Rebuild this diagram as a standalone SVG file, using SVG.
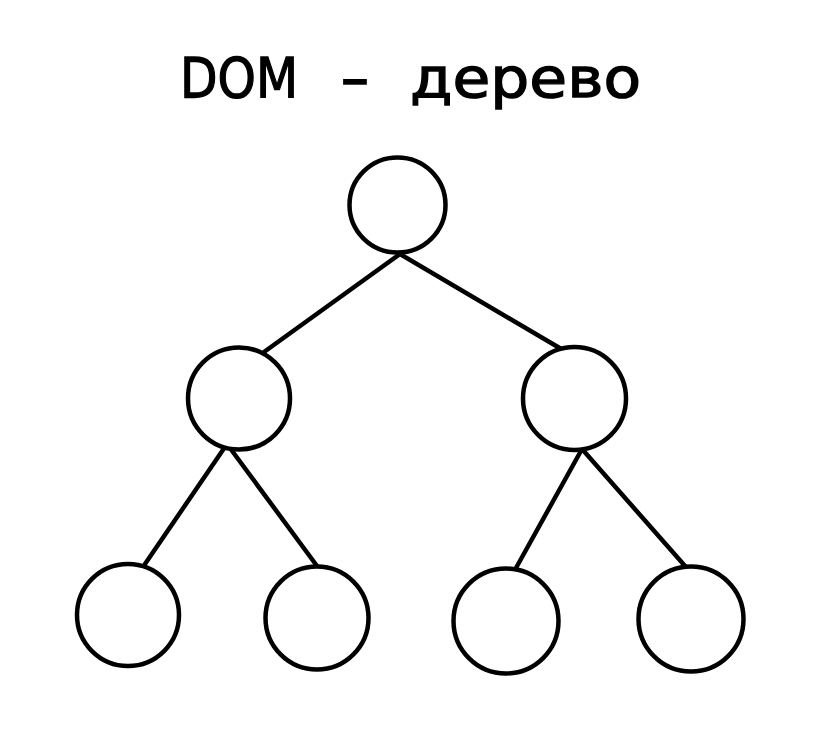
<svg xmlns="http://www.w3.org/2000/svg" width="840" height="737" viewBox="0 0 840 737">
<style>
.node{fill:#fff;stroke:#000;stroke-width:4.5}
.edge{stroke:#000;stroke-width:4.5;stroke-linecap:round}
.title{font-family:"DejaVu Sans","Liberation Sans",sans-serif;font-size:56px;fill:#000;stroke:#000;stroke-width:1.3}
</style>
<rect width="840" height="737" fill="#fff"/>
<text class="title" y="97"><tspan x="180" textLength="118" lengthAdjust="spacingAndGlyphs">DOM</tspan> <tspan x="340" textLength="30" lengthAdjust="spacingAndGlyphs">-</tspan> <tspan x="410" textLength="231" lengthAdjust="spacingAndGlyphs">дерево</tspan></text>
<g id="connectors">
<line class="edge" x1="400" y1="254" x2="264" y2="352"/>
<line class="edge" x1="400" y1="254" x2="563" y2="350"/>
<line class="edge" x1="227" y1="444" x2="145" y2="564"/>
<line class="edge" x1="227" y1="444" x2="317" y2="566"/>
<line class="edge" x1="582" y1="449" x2="516" y2="568"/>
<line class="edge" x1="582" y1="449" x2="685" y2="566"/>
</g>
<g id="n-root"><ellipse class="node" cx="397.5" cy="205" rx="48" ry="47.5"/></g>
<g id="n-left"><circle class="node" cx="239" cy="398.5" r="51"/></g>
<g id="n-right"><circle class="node" cx="574.5" cy="398.5" r="51.5"/></g>
<g id="n-ll"><circle class="node" cx="128" cy="615" r="51"/></g>
<g id="n-lr"><circle class="node" cx="317" cy="618" r="51.5"/></g>
<g id="n-rl"><circle class="node" cx="506" cy="621" r="52.5"/></g>
<g id="n-rr"><circle class="node" cx="691" cy="619" r="52.5"/></g>
</svg>
